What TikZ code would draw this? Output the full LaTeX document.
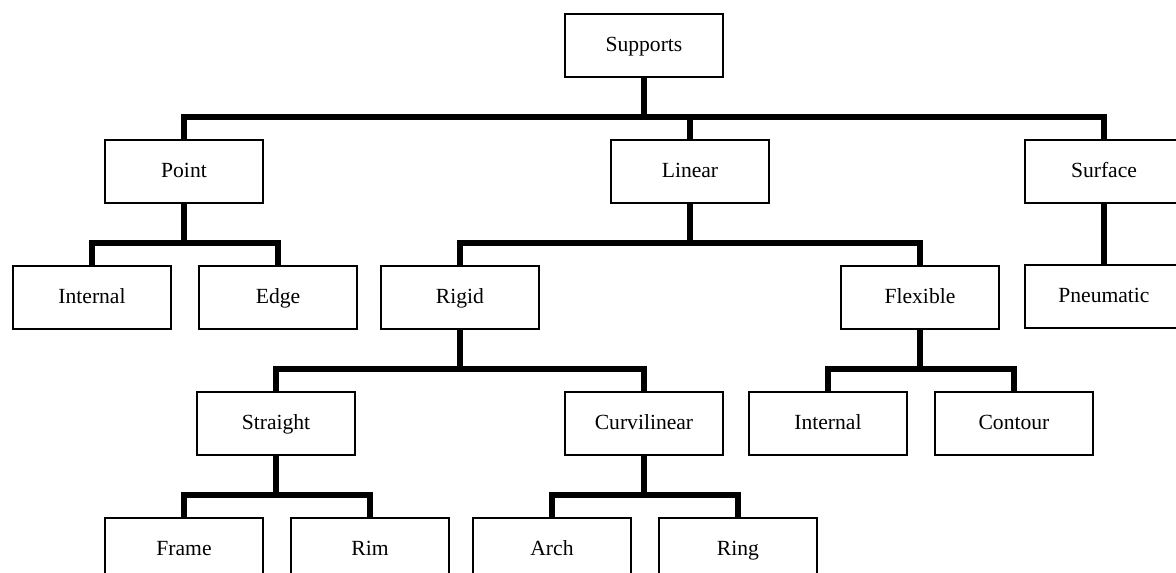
\documentclass[tikz,border=0pt]{standalone}
\usepackage{fontspec}
\setmainfont{Liberation Serif}
\usetikzlibrary{positioning}

\begin{document}
\begin{tikzpicture}[
			x=46pt, y=-63pt,
			every node/.style={font=\fontsize{10.8}{13}\selectfont},
			block/.style={draw, line width=1pt, minimum width=79pt, minimum height=31.5pt, text height=1.6ex, text depth=.3ex},
			link/.style={line width=2.8pt},
		]
			\useasboundingbox (0,-0.361) rectangle (12.783,4.179);

			\node[block] (supports) at (7,0) {Supports};

			\node[block] (point) at (2,1) {Point};
			\node[block] (linear) at (7.5,1) {Linear};
			\node[block] (surface) at (12,1) {Surface};

			\node[block] (internalA) at (1,2) {Internal};
			\node[block, right=13pt of internalA] (edge) {Edge};
			\node[block] (rigid) at (5,2) {Rigid};
			\node[block] (flexible) at (10,2) {Flexible};
			\node[block] (pneumatic) at (12,1.99) {Pneumatic};

			\node[block] (straight) at (3,3) {Straight};
			\node[block] (curvilinear) at (7,3) {Curvilinear};
			\node[block] (internalB) at (9,3) {Internal};
			\node[block, right=13pt of internalB] (contour) {Contour};

			\node[block] (frame) at (2,4) {Frame};
			\node[block, right=13pt of frame] (rim) {Rim};
			\node[block] (arch) at (6,4) {Arch};
			\node[block, right=13pt of arch] (ring) {Ring};

			\draw[link] (supports.south) -- ++(0,0.31) -| (point.north);
			\draw[link] (supports.south) -- ++(0,0.31) -| (linear.north);
			\draw[link] (supports.south) -- ++(0,0.31) -| (surface.north);

			\draw[link] (point.south) -- ++(0,0.31) -| (internalA.north);
			\draw[link] (point.south) -- ++(0,0.31) -| (edge.north);

			\draw[link] (linear.south) -- ++(0,0.31) -| (rigid.north);
			\draw[link] (linear.south) -- ++(0,0.31) -| (flexible.north);

			\draw[link] (surface) -- (pneumatic);

			\draw[link] (rigid.south) -- ++(0,0.31) -| (straight.north);
			\draw[link] (rigid.south) -- ++(0,0.31) -| (curvilinear.north);

			\draw[link] (flexible.south) -- ++(0,0.31) -| (internalB.north);
			\draw[link] (flexible.south) -- ++(0,0.31) -| (contour.north);

			\draw[link] (straight.south) -- ++(0,0.31) -| (frame.north);
			\draw[link] (straight.south) -- ++(0,0.31) -| (rim.north);

			\draw[link] (curvilinear.south) -- ++(0,0.31) -| (arch.north);
			\draw[link] (curvilinear.south) -- ++(0,0.31) -| (ring.north);
		\end{tikzpicture}
\end{document}
